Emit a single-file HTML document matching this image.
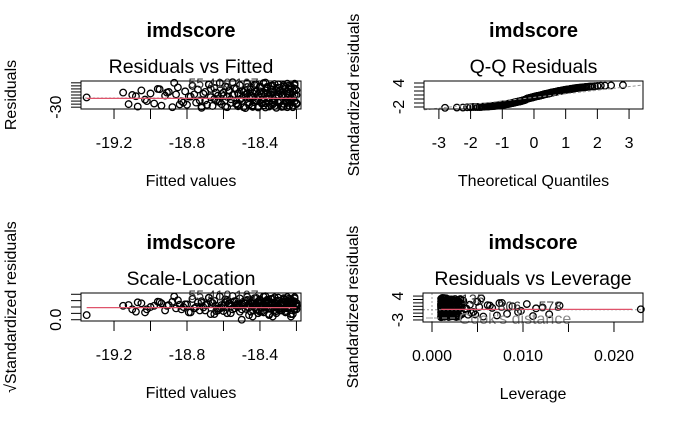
<!DOCTYPE html>
<html><head><meta charset="utf-8"><style>
body{margin:0;background:#fff}
svg{display:block;font-family:"Liberation Sans",Arial,sans-serif}
</style></head><body>
<svg id="c" width="685" height="423" viewBox="0 0 685 423"></svg>
<script>
const fittedA=[-19.35,-19.15,-19.12,-19.10,-19.07,-19.05,-19.03,-19.00,-18.98,-18.96,
-18.94,-18.92,-18.90,-18.88,-18.86,-18.85,-18.83,-18.81,-18.80,-18.78,
-18.77,-18.75,-18.74,-18.72,-18.71,-18.70,-18.68,-18.67,-18.66,-18.65,
-18.64,-18.63,-18.62,-18.61,-18.60,-18.59,-18.58,-18.57,-18.56,-18.55,
-18.54,-18.53,-18.53,-18.52,-18.51,-18.50,-18.50,-18.49,-18.48,-18.47,
-18.47,-18.46,-18.45,-18.45,-18.44,-18.43,-18.43,-18.42,-18.41,-18.41,
-18.40,-18.40,-18.39,-18.38,-18.38,-18.37,-18.37,-18.36,-18.35,-18.35,
-18.34,-18.34,-18.33,-18.33,-18.32,-18.32,-18.31,-18.31,-18.30,-18.30,
-18.29,-18.29,-18.28,-18.28,-18.27,-18.27,-18.26,-18.26,-18.25,-18.25,
-18.24,-18.24,-18.23,-18.23,-18.22,-18.22,-18.21,-18.21,-18.20,-18.20];
const fittedB=[-18.82,-18.79,-18.76,-18.73,-18.70,-18.69,-18.67,-18.65,-18.63,-18.62,
-18.60,-18.59,-18.58,-18.57,-18.56,-18.55,-18.54,-18.53,-18.52,-18.51,
-18.50,-18.49,-18.48,-18.47,-18.46,-18.46,-18.45,-18.44,-18.44,-18.43,
-18.42,-18.42,-18.41,-18.40,-18.40,-18.39,-18.39,-18.38,-18.38,-18.37,
-18.37,-18.36,-18.36,-18.35,-18.35,-18.34,-18.34,-18.33,-18.33,-18.32,
-18.32,-18.31,-18.31,-18.30,-18.30,-18.29,-18.29,-18.28,-18.28,-18.27,
-18.27,-18.26,-18.26,-18.25,-18.25,-18.24,-18.24,-18.23,-18.23,-18.22,
-18.22,-18.21,-18.21,-18.20,-18.20,-18.44,-18.52,-18.58,-18.61,-18.64,
-18.68,-18.72,-18.91,-18.95,-19.02,-19.08,-18.87,-18.84,-18.48,-18.41,
-18.36,-18.33,-18.30,-18.27,-18.25,-18.24,-18.23,-18.22,-18.21,-18.20];
const residualsA=[2,18,-20,10,-28,25,-5,15,-18,30,
-25,8,20,-30,12,35,-10,22,-22,5,
40,-15,28,-32,14,-8,45,3,-26,33,
18,-12,50,-20,7,38,-30,24,-4,52,
12,-18,30,-27,42,0,-10,20,-33,48,
15,-22,35,6,-29,26,-14,44,9,-31,
22,38,-6,-24,16,51,-17,31,-2,-28,
40,12,-21,27,-9,46,4,-32,19,34,
-13,25,-26,8,43,-19,36,-7,-30,14,
28,-16,39,1,-25,20,47,-11,-20,10];
const residualsB=[-15,5,12,-8,20,-22,30,-3,8,-12,
18,-28,4,26,-16,10,32,-20,15,-6,
24,-30,11,36,-14,2,29,-24,17,43,
-9,21,-27,6,34,-18,13,49,-5,25,
-31,16,37,-11,3,27,-23,41,-1,19,
-26,32,7,-15,45,-8,23,-29,11,38,
-19,5,30,-12,47,-25,14,33,-3,21,
-30,9,42,-16,26,1,-22,36,13,-7,
44,-27,18,29,-10,6,50,-21,24,-4,
35,-14,11,-28,22,41,-9,3,31,-18];
const fittedTicks=[-19.2,-19.0,-18.8,-18.6,-18.4,-18.2];
const fittedTickLabels=["-19.2","","-18.8","","-18.4",""];
const qqTicks=[-3,-2,-1,0,1,2,3];
const levTicks=[0,0.005,0.01,0.015,0.02];
const levTickLabels=["0.000","","0.010","","0.020"];
const residSd=15, meanFitted=-18.48;

const fitted=fittedA.concat(fittedB);
const residuals=residualsA.concat(residualsB);

const svg=document.getElementById('c');
const NS='http://www.w3.org/2000/svg';
function el(t,a,p){const e=document.createElementNS(NS,t);for(const k in a)e.setAttribute(k,a[k]);(p||svg).appendChild(e);return e;}
function txt(s,x,y,size,extra,p){const e=el('text',Object.assign({x:x,y:y,'font-size':size,'text-anchor':'middle',fill:'#000'},extra||{}),p);e.textContent=s;return e;}
function lin(d0,d1,r0,r1){return v=>r0+(v-d0)/(d1-d0)*(r1-r0);}

function panel(name,box,xd,yd,title,sub,xlab,ylab,xt,xtl,yt,ylabelTicks){
  const g=el('g',{});
  
  
  const sx=lin(xd[0],xd[1],box.x0,box.x1), sy=lin(yd[0],yd[1],box.y1,box.y0);
  const cx=(box.x0+box.x1)/2;
  const t1=txt('imdscore',cx,box.y0-44,20,{'font-weight':'bold'},g);
  
  const t2=txt(sub,cx,box.y0-8,19.5,{},g);
  
  const t3=txt(xlab,cx,box.y1+77,16,{},g);
  
  const yx=box.x0-69, yc=box.y0+14;
  const t4=txt(ylab,yx,yc,16,{transform:`rotate(-90 ${yx} ${yc})`,'dominant-baseline':'middle'},g);
  
  xt.forEach((v,i)=>{const x=sx(v);el('line',{x1:x,x2:x,y1:box.y1,y2:box.y1+10,stroke:'#000'},g);
    if(xtl[i]){const l=txt(xtl[i],x,box.y1+39,16,{},g);}});
  yt.forEach(v=>{const y=sy(v);el('line',{x1:box.x0-10,x2:box.x0,y1:y,y2:y,stroke:'#000'},g);});
  ylabelTicks.forEach(([v,s])=>{const y=sy(v),x=box.x0-24;const l=txt(s,x,y,16,{transform:`rotate(-90 ${x} ${y})`,'dominant-baseline':'middle'},g);});
  const clip=el('g',{},g);
  return {g,sx,sy,box,plot:clip};
}
function pts(P,xs,ys){xs.forEach((x,i)=>{const c=el('circle',{cx:P.sx(x),cy:P.sy(ys[i]),r:3.3,fill:'none',stroke:'#000','stroke-width':1.3},P.plot);
  });}
function frame(P){const b=P.box;el('rect',{x:b.x0,y:b.y0,width:b.x1-b.x0,height:b.y1-b.y0,fill:'none',stroke:'#000'},P.g);}

// Panel 1
const P1=panel('residuals-vs-fitted',{x0:81,x1:301,y0:81,y1:109},[-19.381,-18.175],[-36,56],'imdscore','Residuals vs Fitted','Fitted values','Residuals',fittedTicks,fittedTickLabels,[-30,-20,-10,0,10,20,30,40,50],[[-30,'-30']]);
el('line',{x1:81,x2:301,y1:P1.sy(0),y2:P1.sy(0),stroke:'#999','stroke-dasharray':'2,2'},P1.g);
pts(P1,fitted,residuals);
el('line',{x1:P1.sx(fitted[0]),x2:P1.sx(-18.2),y1:P1.sy(-1),y2:P1.sy(-1),stroke:'#df536b','stroke-width':1.2},P1.g);
txt('55 410 107',P1.sx(-18.6),88,14,{fill:'#333'},P1.g);
frame(P1);

// Panel 2 QQ
const std=residuals.map(r=>r/residSd);
const sorted=std.slice().sort((a,b)=>a-b);
function qnorm(p){const a=[-39.6968302866538,220.946098424521,-275.928510446969,138.357751867269,-30.6647980661472,2.50662827745924],b=[-54.4760987982241,161.585836858041,-155.698979859887,66.8013118877197,-13.2806815528857],c=[-0.00778489400243029,-0.322396458041136,-2.40075827716184,-2.54973253934373,4.37466414146497,2.93816398269878],d=[0.00778469570904146,0.32246712907004,2.445134137143,3.75440866190742];
 if(p<0.02425){const q=Math.sqrt(-2*Math.log(p));return (((((c[0]*q+c[1])*q+c[2])*q+c[3])*q+c[4])*q+c[5])/((((d[0]*q+d[1])*q+d[2])*q+d[3])*q+1);}
 if(p>1-0.02425){return -qnorm(1-p);}
 const q=p-0.5,r=q*q;return (((((a[0]*r+a[1])*r+a[2])*r+a[3])*r+a[4])*r+a[5])*q/(((((b[0]*r+b[1])*r+b[2])*r+b[3])*r+b[4])*r+1);}
const theo=sorted.map((v,i)=>qnorm((i+0.5)/sorted.length));
const P2=panel('qq-residuals',{x0:424,x1:643,y0:81,y1:109},[-3.47,3.44],[-2.5,4.5],'imdscore','Q-Q Residuals','Theoretical Quantiles','Standardized residuals',qqTicks,qqTicks.map(String),[-2,-1,0,1,2,3,4],[[4,'4'],[-2,'-2']]);
pts(P2,theo,sorted);
el('line',{x1:P2.sx(-3.47),x2:P2.sx(3.44),y1:P2.sy(-3.47*0.9+0.4),y2:P2.sy(3.44*0.9+0.4),stroke:'#999','stroke-dasharray':'3,2'},P2.g);
frame(P2);

// Panel 3 scale-location
const sq=std.map(v=>Math.sqrt(Math.abs(v)));
const P3=panel('scale-location',{x0:81,x1:301,y0:293,y1:321},[-19.381,-18.175],[-0.1,2.1],'imdscore','Scale-Location','Fitted values','\u221AStandardized residuals',fittedTicks,fittedTickLabels,[0,0.5,1,1.5,2],[[0,'0.0']]);
pts(P3,fitted,sq);
el('line',{x1:P3.sx(fitted[0]),x2:P3.sx(-18.2),y1:P3.sy(0.95),y2:P3.sy(0.95),stroke:'#df536b','stroke-width':1.2},P3.g);
txt('55 410 107',P3.sx(-18.6),300,14,{fill:'#333'},P3.g);
frame(P3);

// Panel 4 leverage
const lev=fitted.map(f=>0.001+0.029*(f-meanFitted)*(f-meanFitted));
const P4=panel('residuals-vs-leverage',{x0:423,x1:643,y0:293,y1:322},[-0.00099,0.02319],[-3.6,4.9],'imdscore','Residuals vs Leverage','Leverage','Standardized residuals',levTicks,levTickLabels,[-3,-2,-1,0,1,2,3,4],[[4,'4'],[-3,'-3']]);
el('line',{x1:423,x2:643,y1:P4.sy(0),y2:P4.sy(0),stroke:'#999','stroke-dasharray':'2,2'},P4.g);
el('line',{x1:P4.sx(0),x2:P4.sx(0),y1:293,y2:322,stroke:'#999','stroke-dasharray':'2,2'},P4.g);
pts(P4,lev,std);
el('line',{x1:P4.sx(0.001),x2:P4.sx(0.022),y1:P4.sy(0.1),y2:P4.sy(0.1),stroke:'#df536b','stroke-width':1.2},P4.g);
el('line',{x1:426,x2:456,y1:318,y2:318,stroke:'#999','stroke-dasharray':'5,3'},P4.g);
txt("Cook's distance",515,324,16,{fill:'#888'},P4.g);
txt('135',P4.sx(0.0045),304,14,{fill:'#333'},P4.g);
txt('806',P4.sx(0.0085),311,14,{fill:'#333'},P4.g);
txt('578',P4.sx(0.013),311,14,{fill:'#333'},P4.g);
frame(P4);
</script>
</body></html>
